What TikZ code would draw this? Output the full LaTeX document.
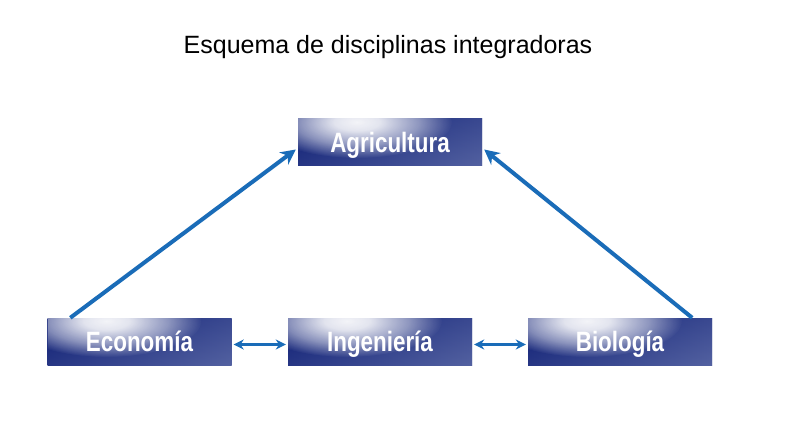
\documentclass[tikz,border=0pt]{standalone}
\usepackage{fontspec}
\setmainfont{Liberation Sans}
\newfontfamily\narrowbold[FakeStretch=0.8]{Liberation Sans Bold}
\usetikzlibrary{calc,arrows.meta,fadings}
\definecolor{navy}{HTML}{0E1E74}
\definecolor{navylight}{HTML}{5E6CA8}
\definecolor{arrowblue}{HTML}{1A6CB8}
\pgfdeclareradialshading{glowsh}{\pgfpointorigin}{color(0bp)=(white); color(6bp)=(white!92!black); color(16bp)=(white!50!black); color(25bp)=(black); color(50bp)=(black)}
\pgfdeclarefading{glowfade}{\pgfuseshading{glowsh}}
\tikzset{
  discbox/.style={minimum width=184pt, minimum height=47pt, inner sep=0pt,
    text height=20pt, text depth=0pt,
    text=white, font=\narrowbold\fontsize{28}{30}\selectfont,
    path picture={
      \shade[top color=navy, bottom color=navylight!70!navy]
        (path picture bounding box.south west) rectangle (path picture bounding box.north east);
      \shade[left color=navy, right color=navylight, opacity=0.55]
        (path picture bounding box.south west) rectangle (path picture bounding box.north east);
      \fill[white, path fading=glowfade, opacity=0.95]
        ($(path picture bounding box.north west)!0.32!(path picture bounding box.north east)+(0,-3)$) ellipse (95pt and 36pt);
    }},
  bigarrow/.style={draw=arrowblue, line width=4pt, -{Stealth[length=15pt,width=15pt]}},
  smallarrow/.style={draw=arrowblue, line width=3pt, {Stealth[length=10pt,width=10pt]}-{Stealth[length=10pt,width=10pt]}}
}
\begin{document}
\begin{tikzpicture}[x=1pt,y=1pt]
\useasboundingbox[fill=white] (0,0) rectangle (800,442);
\node[font=\fontsize{25}{28}\selectfont] (title) at (388,395) {Esquema de disciplinas integradoras};
\node[discbox] (agri) at (390,299.5) {Agricultura};
\node[discbox] (eco) at (139.5,100.5) {Economía};
\node[discbox] (ing) at (380,100.5) {Ingeniería};
\node[discbox] (bio) at (620,100.5) {Biología};
\draw[bigarrow] ($(eco.north west)+(23,0)$) -- ($(agri.west)+(-2,-7)$);
\draw[bigarrow] ($(bio.north east)+(-20,0)$) -- ($(agri.east)+(2,-7)$);
\draw[smallarrow] ($(eco.east)+(2,-3)$) -- ($(ing.west)+(-2,-3)$);
\draw[smallarrow] ($(ing.east)+(2,-3)$) -- ($(bio.west)+(-2,-3)$);
\end{tikzpicture}
\end{document}
